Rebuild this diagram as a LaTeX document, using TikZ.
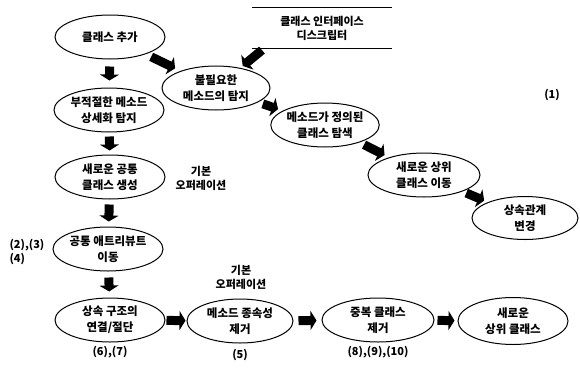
\documentclass[tikz,border=0pt]{standalone}
\usepackage{fontspec}
\setmainfont{Noto Sans CJK KR}
\usetikzlibrary{arrows.meta}
\usetikzlibrary{shapes.geometric}

\begin{document}
\begin{tikzpicture}[x=1pt,y=-1pt,
	stage/.style={ellipse, draw, line width=1pt, minimum width=110pt, minimum height=44pt, inner sep=0pt, align=center, font=\bfseries\fontsize{11.5}{16}\selectfont},
	note/.style={align=center, font=\bfseries\fontsize{11}{14}\selectfont},
	fat/.style={line width=9pt, -{Triangle[width=19pt,length=6pt]}, shorten <=#1, shorten >=#1},
	fat/.default=4pt]
\useasboundingbox (0,0) rectangle (580,367);

	% left column
	\node[stage] (v1) at (110,37) {클래스 추가};
	\node[stage] (v2) at (109,110) {부적절한 메소드\\상세화 탐지};
	\node[stage] (v3) at (110,177) {새로운 공통\\클래스 생성};
	\node[stage] (v4) at (108,249) {공통 애트리뷰트\\이동};
	\node[stage] (v5) at (110,320) {상속 구조의\\연결/절단};
	
	% bottom row
	\node[stage, minimum width=106pt] (v6) at (240,321) {메소드 종속성\\제거};
	\node[stage, minimum width=112pt] (v7) at (378,320) {중복 클래스\\제거};
	\node[stage, minimum height=47pt] (v8) at (513,321) {새로운\\상위 클래스};
	
	% upper chain
	\node[note, minimum width=139pt, minimum height=40pt] (v9) at (322,28) {클래스 인터페이스\\디스크립터};
	\draw[line width=1pt] (v9.north west) -- (v9.north east);
	\draw[line width=1pt] (v9.south west) -- (v9.south east);
	\node[stage, minimum width=108pt] (v10) at (216,88) {불필요한\\메소드의 탐지};
	\node[stage, minimum width=106pt] (v11) at (325,125) {메소드가 정의된\\클래스 탐색};
	\node[stage, minimum width=112pt] (v12) at (424,175) {새로운 상위\\클래스 이동};
	\node[stage, minimum width=106pt, minimum height=43pt] (v13) at (525,218) {상속관계\\변경};
	
	% labels
	\node[note] (v14) at (552,95) {(1)};
	\node[note, anchor=west] (v15) at (6,245) {(2),(3)};
	\node[note, anchor=west] (v16) at (6,259) {(4)};
	\node[note] (v17) at (110,352) {(6),(7)};
	\node[note] (v18) at (240,355) {(5)};
	\node[note] (v19) at (378,352) {(8),(9),(10)};
	\node[note] (v20) at (201,178) {기본\\오퍼레이션};
	\node[note] (v21) at (241,277) {기본\\오퍼레이션};
	
	\draw[fat=7pt] (v1) -- (v2);
	\draw[fat=4pt] (v2) -- (v3);
	\draw[fat=5pt] (v3) -- (v4);
	\draw[fat=6pt] (v4) -- (v5);
	\draw[fat=1pt] (v5) -- (v6);
	\draw[fat=5pt] (v6) -- (v7);
	\draw[fat=3pt] (v7) -- (v8);
	\draw[fat=6pt] (v1) -- (v10);
	\draw[fat=3pt] ([xshift=12pt]v9.south west) -- (v10);
	\draw[fat=5pt] (v10) -- (v11);
	\draw[fat=5pt] (v11) -- (v12);
	\draw[fat=4pt] (v12) -- (v13);
\end{tikzpicture}
\end{document}
